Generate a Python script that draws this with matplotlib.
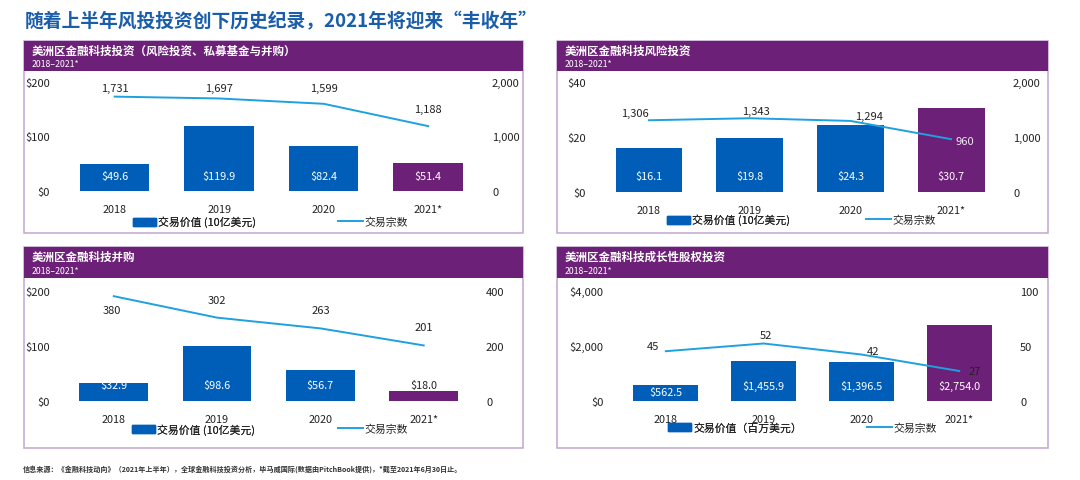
import matplotlib.pyplot as plt
from matplotlib.patches import Rectangle

plt.rcParams['font.family'] = ['Noto Sans CJK SC', 'DejaVu Sans']

W, H = 1080, 481

# data
years = ['2018', '2019', '2020', '2021*']

p1_title = '美洲区金融科技投资（风险投资、私募基金与并购）'
p1_value = [49.6, 119.9, 82.4, 51.4]
p1_count = [1731, 1697, 1599, 1188]

p2_title = '美洲区金融科技风险投资'
p2_value = [16.1, 19.8, 24.3, 30.7]
p2_count = [1306, 1343, 1294, 960]

p3_title = '美洲区金融科技并购'
p3_value = [32.9, 98.6, 56.7, 18.0]
p3_count = [380, 302, 263, 201]

p4_title = '美洲区金融科技成长性股权投资'
p4_value = [562.5, 1455.9, 1396.5, 2754.0]
p4_count = [45, 52, 42, 27]

subtitle = '2018–2021*'
legend_value = '交易价值 (10亿美元)'
legend_value_m = '交易价值（百万美元）'
legend_count = '交易宗数'

title = '随着上半年风投投资创下历史纪录，2021年将迎来“丰收年”'
source = ('信息来源：《金融科技动向》（2021年上半年），全球金融科技投资分析，'
          '毕马威国际(数据由PitchBook提供)，*截至2021年6月30日止。')

# colours
BLUE = '#005EB8'
PURPLE = '#6D2077'
LINE = '#1FA0DF'
BORDER = '#C2A5CE'
TXT = '#222222'

fig = plt.figure(figsize=(W / 100, H / 100), dpi=100)


def fx(x):
    return x / W


def fy(y):
    return 1 - y / H


def px_rect(x0, y0, x1, y1, **kw):
    fig.add_artist(Rectangle((fx(x0), fy(y1)), (x1 - x0) / W, (y1 - y0) / H,
                             transform=fig.transFigure, **kw))


panels = [
    dict(title=p1_title, value=p1_value, count=p1_count, vmax=200, cmax=2000,
         box=(24, 41.7, 523, 234), x0=114.7, dx=104.5, base=191.7, top=83,
         lab_l=50, lab_r=492, leg_y=222.7, leg_bar=133, leg_line=338,
         leg_text=legend_value,
         vlab=[15, 15, 15, 15], vcol=['w', 'w', 'w', 'w'],
         clab=[(0, 8.6), (0, 10.5), (0, 15.8), (0, 17)],
         ccol=[TXT, TXT, TXT, TXT]),
    dict(title=p2_title, value=p2_value, count=p2_count, vmax=40, cmax=2000,
         box=(556.7, 41.7, 1048, 234), x0=649, dx=100.7, base=192.7, top=83.3,
         lab_l=586, lab_r=1013, leg_y=220.7, leg_bar=667, leg_line=866,
         leg_text=legend_value,
         vlab=[15.7, 15.7, 15.7, 15.7], vcol=['w', 'w', 'w', 'w'],
         clab=[(-14, 7), (6.7, 7.5), (19, 5), (14, -1.5)],
         ccol=[TXT, TXT, TXT, '#EDE6F0']),
    dict(title=p3_title, value=p3_value, count=p3_count, vmax=200, cmax=400,
         box=(24, 248.3, 523, 448.5), x0=113.8, dx=103.3, base=401.7, top=291.7,
         lab_l=50, lab_r=486, leg_y=430, leg_bar=132.3, leg_line=338,
         leg_text=legend_value,
         vlab=[15.7, 15.7, 15.7, 15.7], vcol=['w', 'w', 'w', TXT],
         clab=[(-2, -13.5), (0, 18), (0, 18.4), (0, 18)],
         ccol=[TXT, TXT, TXT, TXT]),
    dict(title=p4_title, value=p4_value, count=p4_count, vmax=4000, cmax=100,
         box=(556.7, 248.3, 1048, 448.5), x0=665.8, dx=97.8, base=401.7, top=291.7,
         lab_l=603.3, lab_r=1020, leg_y=428.3, leg_bar=668.3, leg_line=866.7,
         leg_text=legend_value_m,
         vlab=[9, 15, 15, 15], vcol=['w', 'w', 'w', 'w'],
         clab=[(-12.5, 5), (2, 8), (11.6, 3), (16, 0)],
         ccol=[TXT, TXT, TXT, TXT]),
]

fig.text(fx(25), fy(22), title, fontsize=13.5, fontweight='bold',
         color='#1A5DAB', ha='left', va='center')
fig.text(fx(23), fy(469), source, fontsize=5.1, fontweight='bold',
         color='#333333', ha='left', va='center')

for p in panels:
    bx0, by0, bx1, by1 = p['box']
    # frame and header band
    px_rect(bx0, by0, bx1, by1, facecolor='none', edgecolor=BORDER, lw=1.1, zorder=1)
    px_rect(bx0, by0, bx1, by0 + 30.5, facecolor=PURPLE, edgecolor='none', zorder=2)
    fig.text(fx(bx0 + 7.5), fy(by0 + 9.3), p['title'], fontsize=8.3,
             fontweight='bold', color='white', ha='left', va='center', zorder=3)
    fig.text(fx(bx0 + 7.5), fy(by0 + 22.8), subtitle, fontsize=6.3,
             color='white', ha='left', va='center', zorder=3)

    n = len(years)
    xs = list(range(n))
    left = p['x0'] - 0.6 * p['dx']
    right = p['x0'] + (n - 1 + 0.6) * p['dx']
    ax = fig.add_axes([fx(left), fy(p['base']), (right - left) / W,
                       (p['base'] - p['top']) / H])
    ax2 = ax.twinx()
    ax.set_xlim(-0.6, n - 1 + 0.6)
    ax.set_ylim(0, p['vmax'])
    ax2.set_ylim(0, p['cmax'])
    for a in (ax, ax2):
        a.patch.set_visible(False)
        for s in a.spines.values():
            s.set_visible(False)

    colors = [BLUE] * (n - 1) + [PURPLE]
    bars = ax.bar(xs, p['value'], width=0.665, color=colors, zorder=2)
    line, = ax2.plot(xs, p['count'], color=LINE, lw=1.4, zorder=3)

    vt = [0, p['vmax'] / 2, p['vmax']]
    ct = [0, p['cmax'] / 2, p['cmax']]
    ax.set_yticks(vt, [f'${v:,.0f}' for v in vt])
    ax2.set_yticks(ct, [f'{v:,.0f}' for v in ct])
    ax.set_xticks(xs, years)
    ax.tick_params(axis='y', length=0, labelsize=8, labelcolor=TXT,
                   pad=(left - p['lab_l']) * 0.72)
    ax2.tick_params(axis='y', length=0, labelsize=8, labelcolor=TXT,
                    pad=(p['lab_r'] - right) * 0.72)
    ax.tick_params(axis='x', length=0, labelsize=7.8, labelcolor=TXT, pad=9.8)

    for i, v in enumerate(p['value']):
        ax.annotate(f'${v:,.1f}', (i, 0), xytext=(0, p['vlab'][i]),
                    textcoords='offset pixels', ha='center', va='center',
                    fontsize=7.8, color=p['vcol'][i], zorder=4)
    for i, c in enumerate(p['count']):
        dx, dy = p['clab'][i]
        ax2.annotate(f'{c:,}', (i, c), xytext=(dx, dy),
                     textcoords='offset pixels', ha='center', va='center',
                     fontsize=8, color=p['ccol'][i], zorder=4)

    bar_h = Rectangle((0, 0), 1, 1, color=BLUE)
    lg1 = ax.legend([bar_h], [p['leg_text']], loc='center left',
                    bbox_to_anchor=(fx(p['leg_bar']), fy(p['leg_y'])),
                    bbox_transform=fig.transFigure, frameon=False,
                    borderpad=0, borderaxespad=0, handlelength=2.1,
                    handleheight=0.75, handletextpad=0.2, fontsize=7.8)
    for t in lg1.get_texts():
        t.set_color(TXT)
    ax.add_artist(lg1)
    lg2 = ax2.legend([line], [legend_count], loc='center left',
                     bbox_to_anchor=(fx(p['leg_line']), fy(p['leg_y'])),
                     bbox_transform=fig.transFigure, frameon=False,
                     borderpad=0, borderaxespad=0, handlelength=2.3,
                     handletextpad=0.15, fontsize=7.8)
    for t in lg2.get_texts():
        t.set_color(TXT)

fig.savefig('out.png', dpi=100)
